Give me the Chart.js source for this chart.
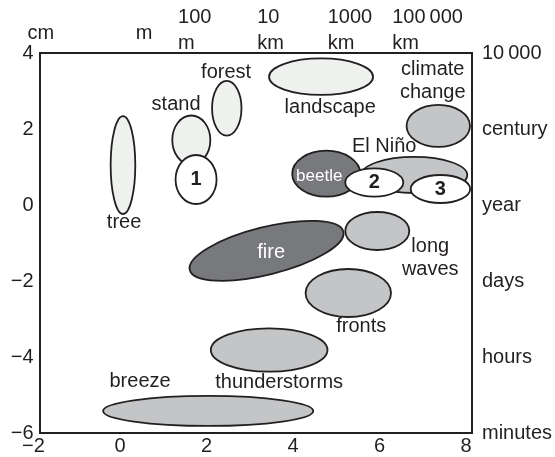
<!DOCTYPE html>
<html>
<head>
<meta charset="utf-8">
<script src="https://cdn.jsdelivr.net/npm/chart.js@4"></script>
<style>
  html, body { margin: 0; padding: 0; background: #fff; }
  #wrap { width: 555px; height: 457px; }
</style>
</head>
<body>
<div id="wrap"><canvas id="myChart"></canvas></div>
<script>
// x = log10 space scale, y = log10 time scale
const names   = ['tree', 'stand', 'forest', 'landscape', 'climate\nchange', 'El Niño', 'beetle', 'fire',
                 'long\nwaves', 'fronts', 'thunderstorms', 'breeze', '1', '2', '3'];
const kinds   = ['veg', 'veg', 'veg', 'veg', 'atm', 'atm', 'dist', 'dist',
                 'atm', 'atm', 'atm', 'atm', 'case', 'case', 'case'];
const centerX = [-0.07, 1.51, 2.33, 4.51, 7.22, 6.665, 4.63, 3.25, 5.81, 5.14, 3.31, 1.90, 1.62, 5.74, 7.27];
const centerY = [1.05, 1.71, 2.545, 3.376, 2.08, 0.79, 0.824, -1.205, -0.684, -2.316, -3.816, -5.42, 0.671, 0.592, 0.421];
const spreadX = [0.285, 0.44, 0.34, 1.203, 0.733, 1.226, 0.787, 1.83, 0.74, 0.988, 1.349, 2.43, 0.474, 0.671, 0.687];
const spreadY = [1.29, 0.645, 0.72, 0.48, 0.553, 0.474, 0.605, 0.626, 0.5, 0.632, 0.571, 0.395, 0.645, 0.374, 0.368];
const tilt    = [0, 0, 0, 0, 0, 0, 0, 14, 0, 0, 0, 0, 0, 0, 0]; // degrees
const labelX  = [-0.045, 1.158, 2.315, 4.721, 7.093, 5.971, 4.467, 3.356, 7.035, 5.439, 3.541, 0.325, 1.62, 5.74, 7.27];
const labelY  = [-0.447, 2.658, 3.5, 2.579, 3.263, 1.553, 0.763, -1.237, -1.395, -3.184, -4.658, -4.632, 0.671, 0.592, 0.421];

const spaceLabels = [['cm'], ['m'], ['100', 'm'], ['10', 'km'], ['1000', 'km'], ['100\u2009000', 'km']];
const spaceX      = [-2.278, 0.224, 1.205, 3.032, 4.664, 6.156];
const timeTicks   = [4, 2, 0, -2, -4, -6];
const timeLabels  = ['10\u2009000', 'century', 'year', 'days', 'hours', 'minutes'];

const ink = '#231f20';
const fills = { veg: '#eff1ef', atm: '#c4c5c7', dist: '#78797c', case: '#ffffff' };
const FONT = 'Liberation Sans';

Chart.defaults.font.family = FONT;
Chart.defaults.color = ink;

const minus = v => v < 0 ? '\u2212' + (-v) : '' + v;

const ellipses = {
  id: 'ellipses',
  afterDatasetsDraw(chart) {
    const {ctx, scales: {x, y}} = chart;
    const kx = Math.abs(x.getPixelForValue(1) - x.getPixelForValue(0));
    const ky = Math.abs(y.getPixelForValue(1) - y.getPixelForValue(0));
    ctx.save();
    names.forEach((n, i) => {
      ctx.beginPath();
      ctx.ellipse(x.getPixelForValue(centerX[i]), y.getPixelForValue(centerY[i]),
        spreadX[i] * kx, spreadY[i] * ky, -tilt[i] * Math.PI / 180, 0, Math.PI * 2);
      ctx.fillStyle = fills[kinds[i]];
      ctx.fill();
      ctx.lineWidth = 1.8;
      ctx.strokeStyle = ink;
      ctx.stroke();
    });
    ctx.textAlign = 'center';
    ctx.textBaseline = 'middle';
    names.forEach((n, i) => {
      const k = kinds[i];
      ctx.fillStyle = k === 'dist' ? '#ffffff' : ink;
      ctx.font = k === 'case' ? 'bold 20px ' + FONT : (n === 'beetle' ? '17px ' + FONT : '20px ' + FONT);
      const lines = n.split('\n');
      const px = x.getPixelForValue(labelX[i]);
      const py = y.getPixelForValue(labelY[i]);
      lines.forEach((t, j) => ctx.fillText(t, px, py + (j - (lines.length - 1) / 2) * 22.5));
    });
    ctx.restore();
  }
};

const topLabels = {
  id: 'topLabels',
  afterDraw(chart) {
    const {ctx, chartArea, scales: {x}} = chart;
    ctx.save();
    ctx.fillStyle = ink;
    ctx.font = '20px ' + FONT;
    ctx.textAlign = 'left';
    ctx.textBaseline = 'alphabetic';
    spaceLabels.forEach((lines, i) => {
      const px = x.getPixelForValue(spaceX[i]);
      if (lines.length === 1) {
        ctx.fillText(lines[0], px, chartArea.top - 14);
      } else {
        ctx.fillText(lines[0], px, chartArea.top - 30);
        ctx.fillText(lines[1], px, chartArea.top - 4);
      }
    });
    ctx.restore();
  }
};

const axisLine = { display: true, color: ink, width: 2 };
const noGrid = { display: false, drawTicks: false };

new Chart(document.getElementById('myChart'), {
  type: 'scatter',
  data: {
    datasets: [{
      data: names.map((n, i) => ({ x: centerX[i], y: centerY[i] })),
      pointRadius: 0
    }]
  },
  options: {
    responsive: true,
    maintainAspectRatio: false,
    animation: false,
    layout: { padding: { top: 53, left: 0, right: 0, bottom: 0 } },
    plugins: { legend: { display: false }, tooltip: { enabled: false } },
    scales: {
      x: {
        min: -2, max: 8,
        grid: noGrid, border: axisLine,
        afterFit: axis => { axis.height = 24; },
        ticks: { stepSize: 2, padding: 3, labelOffset: -6, font: { size: 20, lineHeight: 1 }, callback: minus }
      },
      xTop: {
        type: 'linear', position: 'top', min: -2, max: 8,
        grid: noGrid, border: axisLine,
        ticks: { display: false }
      },
      y: {
        min: -6, max: 4,
        grid: noGrid, border: axisLine,
        afterFit: axis => { axis.width = 39.5; },
        ticks: { stepSize: 2, padding: 6, font: { size: 20, lineHeight: 1 }, callback: minus }
      },
      y2: {
        type: 'linear', position: 'right', min: -6, max: 4,
        grid: noGrid, border: axisLine,
        afterFit: axis => { axis.width = 83; },
        afterBuildTicks: axis => { axis.ticks = timeTicks.map(v => ({ value: v })); },
        ticks: { padding: 10, font: { size: 20, lineHeight: 1 },
          callback: v => timeLabels[timeTicks.indexOf(v)] }
      }
    }
  },
  plugins: [ellipses, topLabels]
});
</script>
</body>
</html>
